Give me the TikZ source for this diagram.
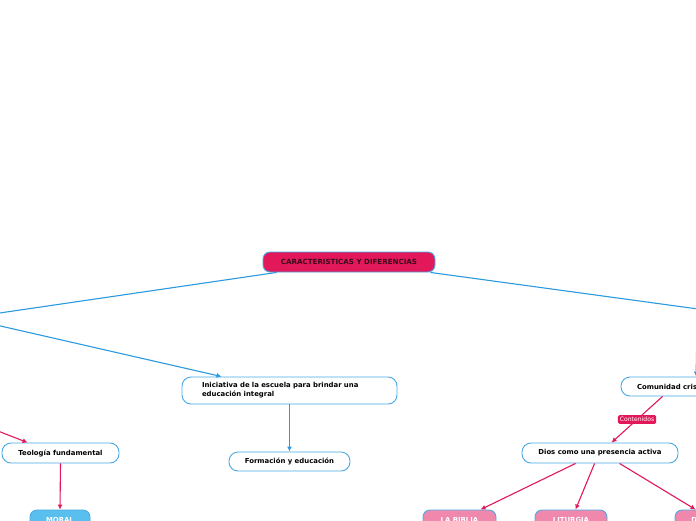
\documentclass[tikz,border=0pt]{standalone}
\usepackage{fontspec}
\setmainfont{DejaVu Sans}
\usetikzlibrary{positioning, arrows.meta, calc}
\definecolor{mapcrimson}{HTML}{E2185B}
\definecolor{mapblue}{HTML}{2B9AE0}
\definecolor{mapedge}{HTML}{4AAAE6}
\definecolor{mappink}{HTML}{F088AE}
\definecolor{mapsky}{HTML}{58BFEE}
\definecolor{mapdark}{HTML}{3A0A1C}

\begin{document}
\begin{tikzpicture}[x=1pt, y=-1pt,
      box/.style={draw=mapedge, line width=0.9pt, rounded corners=9pt, align=center,
        font=\fontsize{6.9}{9}\selectfont\bfseries, inner sep=2pt},
      rootbox/.style={box, fill=mapcrimson, text=mapdark, rounded corners=7pt,
        font=\fontsize{7.1}{9}\selectfont\bfseries},
      topic/.style={box, fill=white, text=black},
      pinkbox/.style={box, fill=mappink, text=white, rounded corners=7pt},
      skybox/.style={box, fill=mapsky, text=white, rounded corners=7pt},
      tag/.style={fill=mapcrimson, text=white, rounded corners=1.5pt,
        font=\fontsize{6.1}{7}\selectfont, inner sep=2pt},
      barr/.style={-{Latex[length=5pt, width=5pt]}, line width=1.1pt, mapblue},
      parr/.style={-{Latex[length=5pt, width=5pt]}, line width=1.1pt, mapcrimson}
    ]
    \useasboundingbox (0,0) rectangle (696,520);
    \fill[white] (0,0) rectangle (696,520);
    \clip (0,0) rectangle (696,520);

    \node[rootbox, minimum width=172pt, minimum height=20pt] (root) at (349,262) {CARACTERISTICAS Y DIFERENCIAS};

    \coordinate (leftin) at (-14,315);
    \coordinate (leftout) at (-17,322);
    \coordinate (leftpink) at (-20,424);
    \coordinate (rightin) at (720,312);
    \coordinate (rightout) at (697,330);

    \node[topic, minimum width=215pt, minimum height=27pt, text width=175pt, align=left] (inic) at (289.5,390.5)
      {Iniciativa de la escuela para brindar una\\educación integral};
    \node[topic, minimum width=121pt, minimum height=19pt] (form) at (289.5,461.5) {Formación y educación};
    \node[topic, minimum width=117pt, minimum height=20pt] (teo) at (60.5,453) {Teología fundamental};
    \node[skybox, minimum width=60pt, minimum height=20pt] (moral) at (60,520) {MORAL};

    \node[topic, minimum width=112pt, minimum height=19pt] (comu) at (677,386.5) {Comunidad cristiana};
    \node[topic, minimum width=156pt, minimum height=20pt] (dios) at (600,453) {Dios como una presencia activa};
    \node[pinkbox, minimum width=73pt, minimum height=20pt] (biblia) at (459.5,520) {LA BIBLIA};
    \node[pinkbox, minimum width=72pt, minimum height=20pt] (litur) at (571,520) {LITURGIA};
    \node[pinkbox, minimum width=73pt, minimum height=20pt] (doct) at (711.5,520) {DOCTRINA};

    \draw[line width=1.1pt, mapblue] ([xshift=14pt]root.south west) -- (leftin);
    \draw[barr] (leftout) -- ([xshift=40pt]inic.north west);
    \draw[barr] (inic.south) -- (form.north);
    \draw[parr] (leftpink) -- ([xshift=26pt]teo.north west);
    \draw[parr] (teo.south) -- (moral.north);

    \draw[line width=1.1pt, mapblue] ([xshift=-5pt]root.south east) -- (rightin);
    \draw[barr] (rightout) -- ([xshift=75.5pt]comu.north west);
    \draw[parr] ([xshift=42pt]comu.south west) -- node[tag, midway] {Contenidos} ([xshift=90pt]dios.north west);
    \draw[parr] ([xshift=54pt]dios.south west) -- ([xshift=58pt]biblia.north west);
    \draw[parr] ([xshift=73pt]dios.south west) -- ([xshift=41pt]litur.north west);
    \draw[parr] ([xshift=98pt]dios.south west) -- ([xshift=21pt]doct.north west);
  \end{tikzpicture}
\end{document}
